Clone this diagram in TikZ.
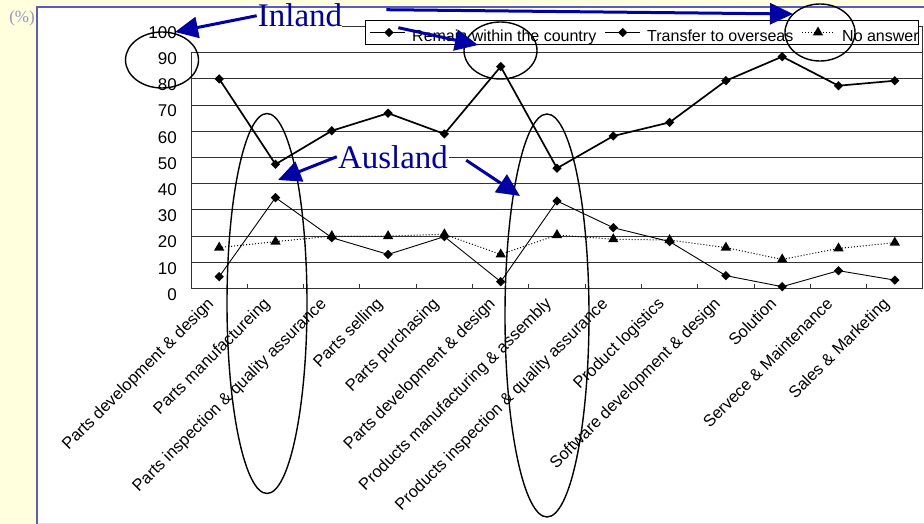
\documentclass[tikz,border=0pt]{standalone}
\usepackage{fontspec}
\setmainfont{Liberation Serif}
\setsansfont{Liberation Sans}
\usetikzlibrary{shapes.geometric, arrows.meta}
\definecolor{paper}{RGB}{255,255,221}
\definecolor{frameblue}{RGB}{90,90,200}
\definecolor{markblue}{RGB}{0,0,165}
\definecolor{pctgray}{RGB}{150,150,190}
\tikzset{
  grid line/.style={black!80, line width=0.9pt},
  remain line/.style={black, line width=1.7pt},
  trans line/.style={black, line width=0.9pt},
  none line/.style={black, line width=1pt, dash pattern=on 1pt off 2pt},
  diam/.style={diamond, fill=black, inner sep=0pt, minimum size=9.5pt},
  tri/.style={regular polygon, regular polygon sides=3, fill=black, inner sep=0pt, minimum size=12pt},
  tick label/.style={anchor=east, inner sep=0pt, font=\sffamily\fontsize{17}{20}\selectfont},
  cat label/.style={anchor=north east, rotate=45, inner sep=0pt, font=\sffamily\fontsize{16.5}{19}\selectfont},
  legend text/.style={anchor=base west, inner sep=0pt, font=\sffamily\fontsize{16}{19}\selectfont},
  ring/.style={black, line width=1.4pt},
  callout text/.style={anchor=base, inner sep=1pt, text=markblue, font=\rmfamily\fontsize{33}{36}\selectfont},
  callout arrow/.style={markblue, line width=3pt, -{Triangle[length=23pt,width=21pt]}}
}

\begin{document}
\begin{tikzpicture}[x=1pt, y=-1pt]
  \useasboundingbox (0,0) rectangle (924,524);
  \fill[paper] (0,0) rectangle (924,524);
  \fill[white] (37,7) rectangle (924,523);
  \draw[black!12] (37,523) -- (924,523);
  \draw[frameblue, line width=1.5pt] (37,524) -- (37,7) -- (924,7);
  \node[text=pctgray, font=\rmfamily\fontsize{17}{20}\selectfont] (pct) at (22,18) {(\%)};

  \foreach \v in {10,20,...,90}
    \draw[grid line] (191,{288.5-2.62*\v}) -- (922,{288.5-2.62*\v});
  \draw[grid line] (342,26.5) -- (922,26.5);
  \draw[grid line] (191,52.3) -- (191,288.5) -- (922,288.5) -- (922,26.5);
  \foreach \i in {1,...,12}
    \draw[grid line] ({191+56.3*\i},288.5) -- ++(0,-5);
  \foreach \v in {0,10,...,100}
    \node[tick label] (tick\v) at (177,{294.5-2.62*\v}) {\v};

  \foreach \lab [count=\i from 0] in {Parts development \& design, Parts manufactureing,
      Parts inspection \& quality assurance, Parts selling, Parts purchasing,
      Parts development \& design, Products manufacturing \& assembly,
      Products inspection \& quality assurance, Product logistics,
      Software development \& design, Solution, Servece \& Maintenance, Sales \& Marketing}
    \node[cat label] (cat\i) at ({206+56.3*\i},296) {\lab};

  \foreach \v [count=\i from 0] in {80,47.4,60.2,66.9,59,84.7,45.9,58.2,63.4,79.3,88.5,77.4,79.3}
    \coordinate (rem\i) at ({219.2+56.3*\i},{288.5-2.62*\v});
  \foreach \v [count=\i from 0] in {4.5,34.7,19.4,13,19.8,2.6,33.4,23.2,17.9,4.9,0.7,6.8,3.2}
    \coordinate (tra\i) at ({219.2+56.3*\i},{288.5-2.62*\v});
  \foreach \v [count=\i from 0] in {15.6,17.9,20,20,20.7,13,20.4,18.8,18.5,15.6,11.1,15.3,17.5}
    \coordinate (non\i) at ({219.2+56.3*\i},{288.5-2.62*\v});

  \draw[none line] (non0) \foreach \i in {1,...,12} {-- (non\i)};
  \draw[trans line] (tra0) \foreach \i in {1,...,12} {-- (tra\i)};
  \draw[remain line] (rem0) \foreach \i in {1,...,12} {-- (rem\i)};
  \foreach \i in {0,...,12} {
    \node[tri] (nonMark\i) at (non\i) {};
    \node[diam] (traMark\i) at (tra\i) {};
    \node[diam] (remMark\i) at (rem\i) {};
  }

  \draw[black, line width=0.8pt, fill=white] (365,20) rectangle (918,44);
  \draw[remain line] (370,32.5) -- (405,32.5);
  \node[diam] (lgRemMark) at (389,32.5) {};
  \node[legend text] (lgRemain) at (412,41.5) {Remain within the country};
  \draw[trans line] (605,32.5) -- (640,32.5);
  \node[diam] (lgTraMark) at (622.7,32.5) {};
  \node[legend text] (lgTransfer) at (647,41.5) {Transfer to overseas};
  \draw[none line] (802,32.5) -- (833,32.5);
  \node[tri] (lgNonMark) at (818,32.5) {};
  \node[legend text] (lgNone) at (842,41.5) {No answer};

  \draw[ring] (162,60) ellipse [x radius=36.5, y radius=28];
  \draw[ring] (500.5,50.5) ellipse [x radius=36.5, y radius=28.5];
  \draw[ring] (820,32.5) ellipse [x radius=35, y radius=28.5];
  \draw[ring] (267,303.5) ellipse [x radius=40, y radius=190];
  \draw[ring] (547,315.5) ellipse [x radius=42, y radius=201.5];

  \node[callout text] (inland) at (300,27) {Inland};
  \node[callout text, fill=white] (ausland) at (393,168) {Ausland};

  \coordinate (inTipA) at (175,32);
  \coordinate (inTipB) at (478,45);
  \coordinate (inTipC) at (793,14);
  \coordinate (ausTipA) at (278,180);
  \coordinate (ausTipB) at (520,196);
  \draw[callout arrow] (inland.west) -- (inTipA);
  \draw[callout arrow] ([shift={(55,12)}]inland.east) -- (inTipB);
  \draw[callout arrow] ([shift={(43,-6)}]inland.east) -- (inTipC);
  \draw[callout arrow] (ausland.west) -- (ausTipA);
  \draw[callout arrow] ([shift={(17,3.5)}]ausland.east) -- (ausTipB);
\end{tikzpicture}
\end{document}
